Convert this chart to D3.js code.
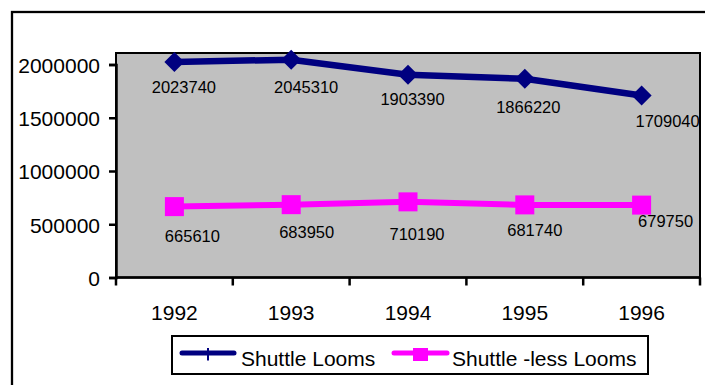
<!DOCTYPE html>
<html>
<head>
<meta charset="utf-8">
<script src="https://cdn.jsdelivr.net/npm/d3@7"></script>
<style>
  html, body { margin: 0; padding: 0; background: #fff; }
  svg { display: block; font-family: "Liberation Sans", Arial, sans-serif; }
</style>
</head>
<body>
<svg id="chart" width="705" height="385"></svg>
<script>
// Loom counts by year
const years = ["1992", "1993", "1994", "1995", "1996"];
const shuttleLooms = [2023740, 2045310, 1903390, 1866220, 1709040];
const shuttlelessLooms = [665610, 683950, 710190, 681740, 679750];
const yTicks = [0, 500000, 1000000, 1500000, 2000000];
const seriesNames = ["Shuttle Looms", "Shuttle -less Looms"];

// Nudges for the value labels, relative to their point (dx, dy in px)
const navyLabelNudge = [[9.5, 31], [15, 33.5], [4.5, 30], [3.5, 34], [26, 32]];
const pinkLabelNudge = [[18, 35.5], [15.5, 33.5], [9, 38], [10, 31], [24, 22]];

const svg = d3.select("#chart");
const plot = { left: 116, right: 700, top: 53, bottom: 277.5 };

// Outer chart frame (runs off the right and bottom edges)
svg.append("rect")
  .attr("x", 12).attr("y", 12).attr("width", 800).attr("height", 500)
  .attr("fill", "#fff").attr("stroke", "#000").attr("stroke-width", 2.3);

const x = d3.scaleBand().domain(years).range([plot.left, plot.right]);
const y = d3.scaleLinear()
  .domain([0, 2000000])
  .range([plot.bottom, 64.5]);

// Plot area
svg.append("rect")
  .attr("x", plot.left).attr("y", plot.top)
  .attr("width", plot.right - plot.left).attr("height", plot.bottom - plot.top)
  .attr("fill", "#C0C0C0").attr("stroke", "#000").attr("stroke-width", 2);

// Y axis
const yAxis = d3.axisLeft(y).tickValues(yTicks).tickSize(7).tickPadding(9)
  .tickFormat(d3.format("d"));
const gy = svg.append("g").attr("transform", `translate(${plot.left},0)`).call(yAxis);
gy.select(".domain").attr("stroke-width", 2.5);
gy.selectAll(".tick line").attr("stroke-width", 2.5);
gy.selectAll(".tick text").attr("font-size", 21).attr("fill", "#000")
  .attr("font-family", "Liberation Sans, Arial, sans-serif").attr("dy", "0.38em");

// X axis with ticks at category boundaries
const gx = svg.append("g").attr("transform", `translate(0,${plot.bottom})`);
gx.append("line").attr("x1", plot.left).attr("x2", plot.right)
  .attr("stroke", "#000").attr("stroke-width", 2.5);
const bounds = years.map(d => x(d)).concat([x(years[years.length - 1]) + x.bandwidth()]);
gx.selectAll("line.tk").data(bounds).join("line").attr("class", "tk")
  .attr("x1", d => d).attr("x2", d => d).attr("y1", 0).attr("y2", 8)
  .attr("stroke", "#000").attr("stroke-width", 2.5);
gx.selectAll("text").data(years).join("text")
  .attr("x", d => x(d) + x.bandwidth() / 2).attr("y", 42.5)
  .attr("text-anchor", "middle").attr("font-size", 21).attr("fill", "#000")
  .text(d => d);

const cx = d => x(d) + x.bandwidth() / 2;
const line = d3.line().x((d, i) => cx(years[i])).y(d => y(d));

// Shuttle looms series
svg.append("path").datum(shuttleLooms).attr("d", line)
  .attr("fill", "none").attr("stroke", "#000080").attr("stroke-width", 6.5)
  .attr("stroke-linejoin", "round");
svg.selectAll("path.diamond").data(shuttleLooms).join("path").attr("class", "diamond")
  .attr("d", (d, i) => {
    const px = cx(years[i]), py = y(d), r = 10;
    return `M${px},${py - r}L${px + r},${py}L${px},${py + r}L${px - r},${py}Z`;
  })
  .attr("fill", "#000080");

// Shuttle-less looms series
svg.append("path").datum(shuttlelessLooms).attr("d", line)
  .attr("fill", "none").attr("stroke", "#FF00FF").attr("stroke-width", 6)
  .attr("stroke-linejoin", "round");
svg.selectAll("rect.sq").data(shuttlelessLooms).join("rect").attr("class", "sq")
  .attr("x", (d, i) => cx(years[i]) - 9.5).attr("y", d => y(d) - 9.5)
  .attr("width", 19).attr("height", 19).attr("fill", "#FF00FF");

// Value labels
svg.selectAll("text.lblA").data(shuttleLooms).join("text").attr("class", "lblA")
  .attr("x", (d, i) => cx(years[i]) + navyLabelNudge[i][0])
  .attr("y", (d, i) => y(d) + navyLabelNudge[i][1])
  .attr("text-anchor", "middle").attr("font-size", 16.5).attr("fill", "#000")
  .text(d => d);
svg.selectAll("text.lblB").data(shuttlelessLooms).join("text").attr("class", "lblB")
  .attr("x", (d, i) => cx(years[i]) + pinkLabelNudge[i][0])
  .attr("y", (d, i) => y(d) + pinkLabelNudge[i][1])
  .attr("text-anchor", "middle").attr("font-size", 16.5).attr("fill", "#000")
  .text(d => d);

// Legend
const lg = svg.append("g");
lg.append("rect").attr("x", 172).attr("y", 336).attr("width", 476).attr("height", 38)
  .attr("fill", "#fff").attr("stroke", "#000").attr("stroke-width", 2);
lg.append("line").attr("x1", 182).attr("x2", 234).attr("y1", 353).attr("y2", 353)
  .attr("stroke", "#000080").attr("stroke-width", 5).attr("stroke-linecap", "round");
lg.append("line").attr("x1", 208).attr("x2", 208).attr("y1", 348).attr("y2", 360.5)
  .attr("stroke", "#000080").attr("stroke-width", 2);
lg.append("text").attr("x", 241).attr("y", 366).attr("font-size", 21).attr("fill", "#000")
  .text(seriesNames[0]);
lg.append("line").attr("x1", 394).attr("x2", 447).attr("y1", 353).attr("y2", 353)
  .attr("stroke", "#FF00FF").attr("stroke-width", 5).attr("stroke-linecap", "round");
lg.append("rect").attr("x", 413).attr("y", 348).attr("width", 15).attr("height", 13)
  .attr("fill", "#FF00FF");
lg.append("text").attr("x", 452).attr("y", 366).attr("font-size", 21).attr("fill", "#000")
  .text(seriesNames[1]);
</script>
</body>
</html>
